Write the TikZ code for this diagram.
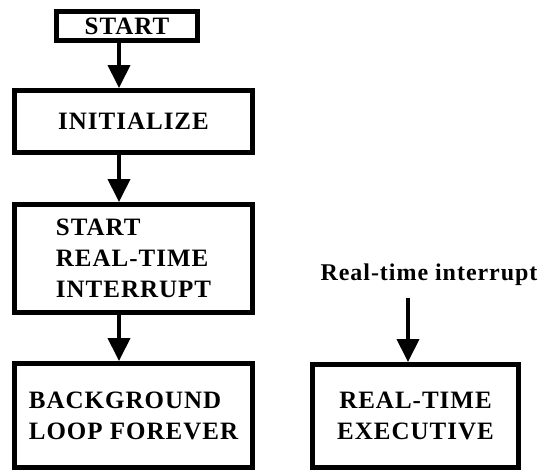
\documentclass[tikz,border=0pt]{standalone}
\usepackage{fontspec}
\setmainfont{Liberation Serif}[LetterSpace=4]
\usetikzlibrary{arrows.meta}
\tikzset{
  box/.style={draw=black, line width=5pt, inner sep=0pt, outer sep=2.5pt,
    font=\fontsize{25pt}{31pt}\selectfont\bfseries},
  conn/.style={line width=4pt, -{Triangle[width=22pt,length=23pt]}, shorten <=-1pt}
}
\begin{document}
\begin{tikzpicture}[x=1pt,y=-1pt]
\useasboundingbox (0,0) rectangle (544,472);
\node[box, minimum width=141pt, minimum height=29pt] (start) at (127,26) {START};
\node[box, minimum width=238pt, minimum height=62pt] (init) at (133.5,121.5) {INITIALIZE};
\node[box, minimum width=238pt, minimum height=108pt, align=left] (srt) at (133.5,258.5) {START\\REAL-TIME\\INTERRUPT};
\node[box, minimum width=238pt, minimum height=104pt, align=left] (bg) at (133.5,415.5) {BACKGROUND\\LOOP FOREVER};
\node[box, minimum width=206pt, minimum height=103pt, align=center] (rte) at (415.5,416) {REAL-TIME\\EXECUTIVE};
\node[font=\fontsize{24pt}{28pt}\selectfont\bfseries, inner sep=0pt] (lbl) at (429,275) {Real-time interrupt};
\coordinate (a1) at (119,0);
\coordinate (a2) at (408,0);
\coordinate (lblend) at (408,298);
\draw[conn] (start.south -| a1) -- (init.north -| a1);
\draw[conn] (init.south -| a1) -- (srt.north -| a1);
\draw[conn] (srt.south -| a1) -- (bg.north -| a1);
\draw[conn, shorten <=0pt] (lblend) -- (rte.north -| a2);
\end{tikzpicture}
\end{document}
